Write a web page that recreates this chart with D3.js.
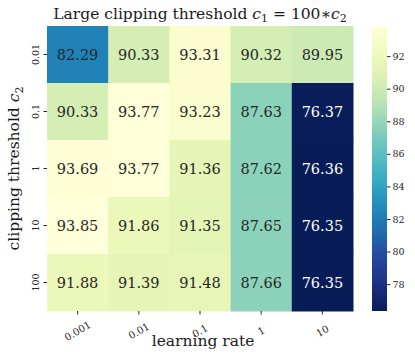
<!DOCTYPE html>
<html>
<head>
<meta charset="utf-8">
<script src="https://cdn.jsdelivr.net/npm/d3@7"></script>
<style>
  body { margin: 0; background: #fff; }
  text { font-family: "DejaVu Serif", serif; fill: #1a1a1a; }
</style>
</head>
<body>
<div class="chart"></div>
<script>
// data
var learningRates = ["0.001", "0.01", "0.1", "1", "10"];
var clipThresholds = ["0.01", "0.1", "1", "10", "100"];
var accuracy = [
  [82.29, 90.33, 93.31, 90.32, 89.95],
  [90.33, 93.77, 93.23, 87.63, 76.37],
  [93.69, 93.77, 91.36, 87.62, 76.36],
  [93.85, 91.86, 91.35, 87.65, 76.35],
  [91.88, 91.39, 91.48, 87.66, 76.35]
];
var colorbarTicks = [78, 80, 82, 84, 86, 88, 90, 92];

var svgWidth = 415, svgHeight = 357;
var margin = { top: 26, left: 47 };
var width = 306, height = 285;

var svg = d3.select(".chart").append("svg")
  .attr("width", svgWidth)
  .attr("height", svgHeight);

var cells = [];
accuracy.forEach(function(row, i) {
  row.forEach(function(v, j) {
    cells.push({ row: clipThresholds[i], col: learningRates[j], value: v });
  });
});

var allValues = cells.map(d => d.value);
var vmin = d3.min(allValues), vmax = d3.max(allValues);

var xScale = d3.scaleBand().domain(learningRates).range([0, width]);
var yScale = d3.scaleBand().domain(clipThresholds).range([0, height]);
// reversed YlGnBu: high accuracy = light yellow
var color = d3.scaleSequential(d3.interpolateYlGnBu).domain([vmax, vmin]);

var chartGroup = svg.append("g")
  .attr("transform", `translate(${margin.left}, ${margin.top})`);

chartGroup.selectAll("rect")
  .data(cells)
  .enter()
  .append("rect")
  .attr("x", d => xScale(d.col))
  .attr("y", d => yScale(d.row))
  .attr("width", xScale.bandwidth() + 0.5)
  .attr("height", yScale.bandwidth() + 0.5)
  .attr("fill", d => color(d.value));

// annotation colour like seaborn: white on dark cells
function textColor(v) {
  var c = d3.rgb(color(v));
  var lum = 0.2126 * c.r / 255 + 0.7152 * c.g / 255 + 0.0722 * c.b / 255;
  return lum > 0.408 ? "#262626" : "#ffffff";
}

chartGroup.append("g").selectAll("text")
  .data(cells)
  .enter()
  .append("text")
  .attr("x", d => xScale(d.col) + xScale.bandwidth() / 2)
  .attr("y", d => yScale(d.row) + yScale.bandwidth() / 2)
  .attr("dy", "0.35em")
  .attr("text-anchor", "middle")
  .style("font-size", "14.5px")
  .style("fill", d => textColor(d.value))
  .text(d => d.value.toFixed(2));

// x axis
var xAxis = chartGroup.append("g")
  .attr("transform", `translate(0, ${height})`)
  .call(d3.axisBottom(xScale).tickSize(3.5).tickPadding(3));
xAxis.select(".domain").remove();
xAxis.selectAll("line").attr("stroke", "#262626");
xAxis.selectAll("text")
  .attr("y", 0).attr("dy", "0.35em")
  .attr("text-anchor", "middle")
  .attr("transform", "translate(0, 20) rotate(-30)")
  .style("font-size", "10px")
  .style("font-family", "DejaVu Serif, serif")
  .style("fill", "#262626");

// y axis
var yAxis = chartGroup.append("g")
  .call(d3.axisLeft(yScale).tickSize(3.5));
yAxis.select(".domain").remove();
yAxis.selectAll("line").attr("stroke", "#262626");
yAxis.selectAll("text")
  .attr("x", 0).attr("dy", 0)
  .attr("text-anchor", "middle")
  .attr("transform", "translate(-8, 0) rotate(-90)")
  .style("font-size", "9.5px")
  .style("font-family", "DejaVu Serif, serif")
  .style("fill", "#262626");

// axis labels
chartGroup.append("text")
  .attr("text-anchor", "middle")
  .attr("transform", "translate(" + (width / 2 + 3) + "," + (height + 35) + ")")
  .style("font-size", "15.5px")
  .text("learning rate");

var yLab = chartGroup.append("text")
  .attr("text-anchor", "middle")
  .attr("transform", "translate(" + (-28) + "," + (height / 2) + ")rotate(-90)")
  .style("font-size", "15.5px");
yLab.append("tspan").text("clipping threshold ");
yLab.append("tspan").style("font-style", "italic").text("c");
yLab.append("tspan").attr("dy", 4).style("font-size", "11px").text("2");

// title
var title = chartGroup.append("text")
  .attr("text-anchor", "middle")
  .attr("transform", "translate(" + (width / 2) + "," + (-7) + ")")
  .style("font-size", "15.5px");
title.append("tspan").text("Large clipping threshold ");
title.append("tspan").style("font-style", "italic").text("c");
title.append("tspan").attr("dy", 3).style("font-size", "11px").text("1");
title.append("tspan").attr("dy", -3).text(" = 100\u2217");
title.append("tspan").style("font-style", "italic").text("c");
title.append("tspan").attr("dy", 3).style("font-size", "11px").text("2");

// colorbar
var cbX = 372, cbW = 15, cbTop = 26, cbH = 285;
var cbScale = d3.scaleLinear().domain([vmin, vmax]).range([cbTop + cbH, cbTop]);

var defs = svg.append("defs");
var grad = defs.append("linearGradient")
  .attr("id", "cbgrad")
  .attr("x1", 0).attr("y1", 1).attr("x2", 0).attr("y2", 0);
d3.range(0, 1.0001, 0.05).forEach(function(t) {
  grad.append("stop")
    .attr("offset", t)
    .attr("stop-color", color(vmin + t * (vmax - vmin)));
});

svg.append("rect")
  .attr("x", cbX).attr("y", cbTop)
  .attr("width", cbW).attr("height", cbH)
  .attr("fill", "url(#cbgrad)");

var cbAxis = svg.append("g")
  .attr("transform", `translate(${cbX + cbW}, 0)`)
  .call(d3.axisRight(cbScale).tickValues(colorbarTicks).tickSize(3.5).tickPadding(2));
cbAxis.select(".domain").remove();
cbAxis.selectAll("line").attr("stroke", "#262626");
cbAxis.selectAll("text")
  .style("font-size", "9.5px")
  .style("font-family", "DejaVu Serif, serif")
  .style("fill", "#262626");
</script>
</body>
</html>
